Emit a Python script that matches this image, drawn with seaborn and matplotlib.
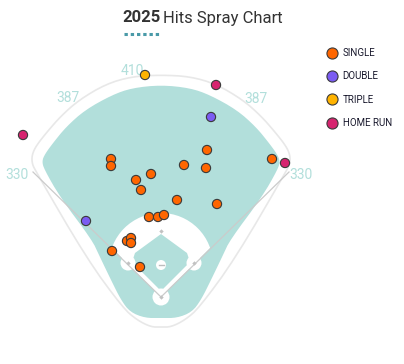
import numpy as np
import pandas as pd
import matplotlib
matplotlib.use("Agg")
import matplotlib.pyplot as plt
from matplotlib.patches import Polygon, Circle
from matplotlib.lines import Line2D
import seaborn as sns

# hit locations in chart coordinates (x right, y down, home plate near 161, 297)
single_x = [111, 111, 151, 136, 141, 207, 184, 206, 177, 217, 149, 158, 164, 272, 127, 131, 131, 112, 140]
single_y = [159, 166, 174, 180, 190, 150, 165, 168, 200, 204, 217, 217, 215, 159, 241, 238, 243, 251, 267]
double_x = [211, 86]
double_y = [117, 221]
triple_x = [145]
triple_y = [75]
homerun_x = [23, 216, 285]
homerun_y = [135, 85, 163]

results = ["SINGLE", "DOUBLE", "TRIPLE", "HOME RUN"]
colors = ["#ff6600", "#7b5cf2", "#ffb300", "#d6246f"]

wall_labels = ["330", "387", "410", "387", "330"]

df = pd.concat([
    pd.DataFrame({"hc_x": single_x, "hc_y": single_y, "result": "SINGLE"}),
    pd.DataFrame({"hc_x": double_x, "hc_y": double_y, "result": "DOUBLE"}),
    pd.DataFrame({"hc_x": triple_x, "hc_y": triple_y, "result": "TRIPLE"}),
    pd.DataFrame({"hc_x": homerun_x, "hc_y": homerun_y, "result": "HOME RUN"}),
], ignore_index=True)

CX, HOME_Y = 161, 297
TEAL = "#b2dfdb"
LINE_GRAY = "#cbcbcb"
FONT = ["Roboto", "DejaVu Sans"]


def smooth(pts, n=3):
    # chaikin corner cutting on a closed polygon
    pts = np.asarray(pts, float)
    for _ in range(n):
        nxt = np.roll(pts, -1, axis=0)
        q = 0.75 * pts + 0.25 * nxt
        r = 0.25 * pts + 0.75 * nxt
        pts = np.empty((len(pts) * 2, 2))
        pts[0::2] = q
        pts[1::2] = r
    return pts


def mirror(half):
    right = [(CX + dx, y) for dx, y in half]
    left = [(CX - dx, y) for dx, y in reversed(half[1:-1])]
    return right + left


outer_half = [(0, 75), (29, 76.5), (55, 84), (82, 100), (100, 116), (114, 132),
              (125, 146), (129, 155), (129, 163), (126, 170), (74, 259),
              (38, 308), (24, 320), (10, 327), (0, 327)]
teal_half = [(0, 85), (29, 88), (49, 95), (76, 110), (95, 127), (108, 143),
             (116, 154), (119, 161), (117, 169), (101, 197), (69, 240),
             (62, 255), (50, 280), (40, 300), (31, 312), (16, 318), (0, 318)]

plt.rcParams["lines.scale_dashes"] = False
fig = plt.figure(figsize=(4.04, 3.64), dpi=100)
ax = fig.add_axes([0, 0, 1, 1])

# stadium outline and grass
ax.add_patch(Polygon(smooth(mirror(outer_half), 2), closed=True, facecolor="white",
                     edgecolor="#e8e8e8", lw=1.2, zorder=1))
ax.add_patch(Polygon(smooth(mirror(teal_half), 2), closed=True, facecolor=TEAL,
                     edgecolor="none", zorder=2))

# infield dirt, clipped to fair territory
wedge = Polygon([(CX, HOME_Y), (CX - 300, HOME_Y - 300), (CX + 300, HOME_Y - 300)],
                closed=True, transform=ax.transData)
dirt = Circle((CX, 265), 52, facecolor="white", edgecolor="none", zorder=3)
ax.add_patch(dirt)
dirt.set_clip_path(wedge)
ax.add_patch(Polygon([(CX, 234), (CX + 26, 253), (CX + 29, 262), (CX, 291),
                      (CX - 29, 262), (CX - 26, 253)], closed=True,
                     facecolor=TEAL, edgecolor="none", zorder=4))
for bx in (CX - 33, CX + 33):
    ax.add_patch(Circle((bx, 263), 7.5, facecolor="white", edgecolor="none", zorder=5))
ax.add_patch(Circle((CX, HOME_Y), 8.5, facecolor="white", edgecolor="none", zorder=5))
ax.add_patch(Circle((CX, 265), 5, facecolor="white", edgecolor="none", zorder=5))
ax.plot([CX - 2.5, CX + 2.5], [265, 265], color="#bdbdbd", lw=1, zorder=6)

# foul lines
ax.plot([33, CX, 289], [172, HOME_Y, 172], color=LINE_GRAY, lw=0.9, zorder=6,
        solid_joinstyle="miter")
ax.scatter([CX - 33, CX, CX + 33, CX], [263, 231, 263, HOME_Y], marker="D", s=5,
           color="#c2c2c2", linewidths=0, zorder=7)

# wall distances
label_x = [17, 68, 132, 256, 301]
label_y = [175, 98, 71, 99, 175]
for tx, ty, t in zip(label_x, label_y, wall_labels):
    ax.text(tx, ty, t, ha="center", va="center", fontsize=10, color=TEAL, family=FONT)

# hits
sns.scatterplot(data=df, x="hc_x", y="hc_y", hue="result", hue_order=results,
                palette=dict(zip(results, colors)), s=44, edgecolor="#3a3a3a",
                linewidth=0.8, legend=False, ax=ax, zorder=10)
ax.set_xlim(0, 404)
ax.set_ylim(364, 0)
ax.axis("off")

# title
ax.text(122, 18, "2025", ha="left", va="center", fontsize=12, fontweight="bold",
        color="#333333", family=FONT)
ax.text(163, 18, "Hits Spray Chart", ha="left", va="center", fontsize=12,
        color="#333333", family=FONT)
ax.plot([124, 160], [33.5, 33.5], color="#4a9aa8", lw=2.2, dashes=(2.4, 2.1),
        solid_capstyle="butt", dash_capstyle="butt")

# legend
handles = [Line2D([], [], ls="", marker="o", markersize=8, markerfacecolor=c,
                  markeredgecolor="#3a3a3a", markeredgewidth=0.8) for c in colors]
leg = ax.legend(handles, results, loc="upper left", bbox_to_anchor=(327, 48),
                bbox_transform=ax.transData, frameon=False, fontsize=7,
                labelspacing=1.37, handletextpad=0.6, handlelength=1.0,
                borderpad=0, borderaxespad=0)
for t in leg.get_texts():
    t.set_color("#1a1a2e")
    t.set_family(FONT)

fig.savefig("out.png", dpi=100)
